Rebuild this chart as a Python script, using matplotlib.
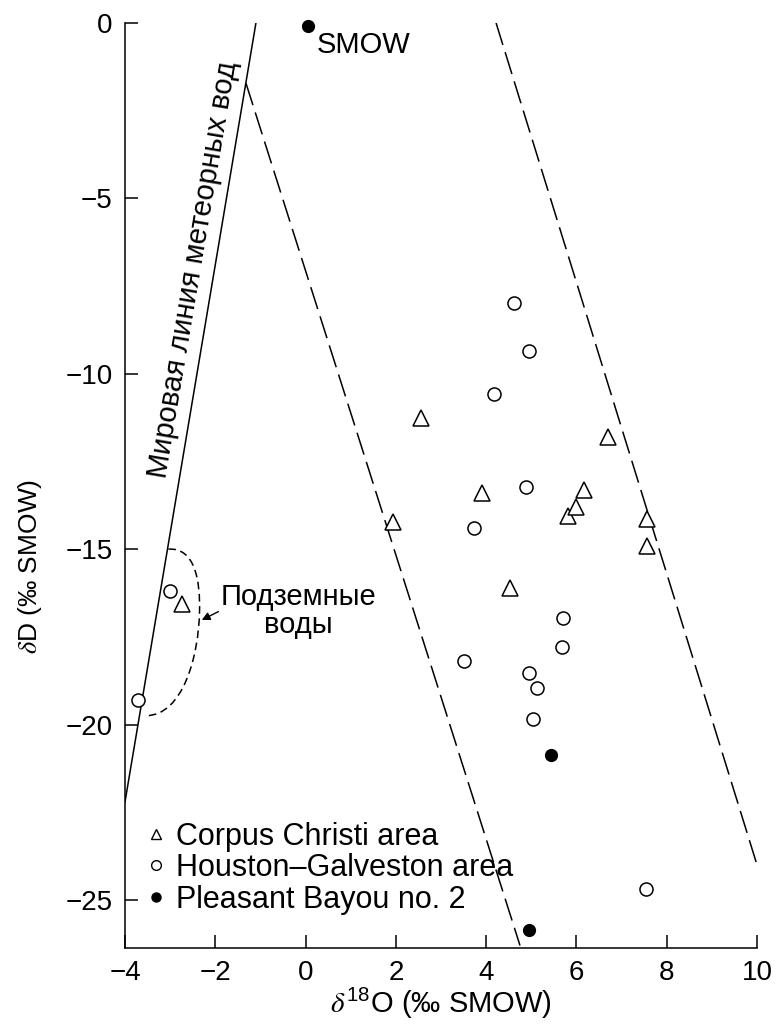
import matplotlib.pyplot as plt
from matplotlib.path import Path
from matplotlib.patches import PathPatch
from matplotlib.lines import Line2D

plt.rcParams['font.family'] = ['Liberation Sans', 'DejaVu Sans']
plt.rcParams['mathtext.fontset'] = 'custom'
plt.rcParams['mathtext.rm'] = 'Liberation Sans'
plt.rcParams['mathtext.it'] = 'STIXGeneral:italic'

# Corpus Christi area
cc_o18 = [-2.74, 1.94, 2.56, 3.90, 4.53, 5.81, 5.99, 6.17, 6.71, 7.56, 7.56]
cc_d = [-16.55, -14.22, -11.25, -13.4, -16.1, -14.05, -13.8, -13.3, -11.8, -14.15, -14.9]

# Houston-Galveston area
hg_o18 = [-3.72, -3.0, 3.52, 3.74, 4.18, 4.62, 4.88, 4.94, 4.95, 5.03, 5.12, 5.67, 5.71, 7.54]
hg_d = [-19.3, -16.19, -18.18, -14.41, -10.58, -7.97, -13.22, -18.54, -9.34, -19.85, -18.97,
        -17.78, -16.97, -24.7]

# Pleasant Bayou no. 2
pb_o18 = [5.43, 4.96]
pb_d = [-20.87, -25.87]

smow_o18 = [0.05]
smow_d = [-0.1]

# global meteoric water line and the two dashed bounds
gmwl_o18 = [-1.1, -4.0]
gmwl_d = [0.0, -22.2]
left_o18 = [-1.32, 4.75]
left_d = [-1.72, -26.3]
right_o18 = [4.22, 10.0]
right_d = [0.0, -24.0]

xticks = [-4, -2, 0, 2, 4, 6, 8, 10]
yticks = [0, -5, -10, -15, -20, -25]

fig = plt.figure(figsize=(7.78, 10.35), dpi=100)
ax = fig.add_axes([0.1607, 0.0841, 0.8123, 0.8937])

ax.plot(gmwl_o18, gmwl_d, color='black', lw=1.1)
ax.plot(left_o18, left_d, color='black', lw=1.1, ls=(0, (15, 5)))
ax.plot(right_o18, right_d, color='black', lw=1.1, ls=(0, (15, 5)))

# groundwater outline
verts = [(-3.04, -15.0), (-2.45, -14.95), (-2.33, -15.9), (-2.35, -16.8),
         (-2.37, -18.0), (-2.7, -19.75), (-3.55, -19.75)]
codes = [Path.MOVETO] + [Path.CURVE4] * 6
ax.add_patch(PathPatch(Path(verts, codes), fill=False, color='black', lw=1.1, ls=(0, (5, 3))))
ax.annotate('', xy=(-2.30, -17.02), xytext=(-1.93, -16.78),
            arrowprops=dict(arrowstyle='-|>', color='black', lw=1.0, mutation_scale=12,
                            shrinkA=0, shrinkB=0))
ax.text(-0.16, -16.76, 'Подземные\nводы', ha='center', va='center', fontsize=21, linespacing=1.0)

ax.plot(cc_o18, cc_d, ls='none', marker='^', ms=11, mfc='white', mec='black', mew=1.1)
ax.plot(hg_o18, hg_d, ls='none', marker='o', ms=9.4, mfc='white', mec='black', mew=1.1)
ax.plot(pb_o18, pb_d, ls='none', marker='o', ms=8.5, color='black', clip_on=False)
ax.plot(smow_o18, smow_d, ls='none', marker='o', ms=8.5, color='black', clip_on=False)
ax.text(0.25, -0.63, 'SMOW', ha='left', va='center', fontsize=21)

ax.text(-2.49, -7.04, 'Мировая линия метеорных вод', ha='center', va='center',
        rotation=80.4, rotation_mode='anchor', fontsize=21)

handles = [
    Line2D([], [], ls='none', marker='^', ms=7.5, mfc='white', mec='black', mew=1.0),
    Line2D([], [], ls='none', marker='o', ms=7, mfc='white', mec='black', mew=1.0),
    Line2D([], [], ls='none', marker='o', ms=6.5, color='black'),
]
labels = ['Corpus Christi area', 'Houston–Galveston area', 'Pleasant Bayou no. 2']
ax.legend(handles, labels, loc='lower left', bbox_to_anchor=(0.030, 0.036), frameon=False,
          fontsize=22, handlelength=0.8, handletextpad=0.25, labelspacing=0.05, borderpad=0,
          borderaxespad=0)

ax.set_xlim(-4, 10)
ax.set_ylim(-26.37, 0)
ax.set_xticks(xticks)
ax.set_yticks(yticks)
ax.set_xticklabels(['−4', '−2', '0', '2', '4', '6', '8', '10'])
ax.set_yticklabels(['0', '−5', '−10', '−15', '−20', '−25'])
ax.tick_params(direction='in', length=9.5, width=1.1, labelsize=20)
ax.tick_params(axis='x', pad=9)
ax.tick_params(axis='y', pad=9)
for side in ['top', 'right']:
    ax.spines[side].set_visible(False)
for side in ['left', 'bottom']:
    ax.spines[side].set_linewidth(1.1)

ax.set_xlabel(r'$\delta^{\mathrm{18}}$O (‰ SMOW)', fontsize=21)
ax.set_ylabel(r'$\delta$D (‰ SMOW)', fontsize=19)
ax.xaxis.set_label_coords(0.5, -0.042)
ax.yaxis.set_label_coords(-0.128, 0.413)

fig.savefig('out.png', dpi=100)
